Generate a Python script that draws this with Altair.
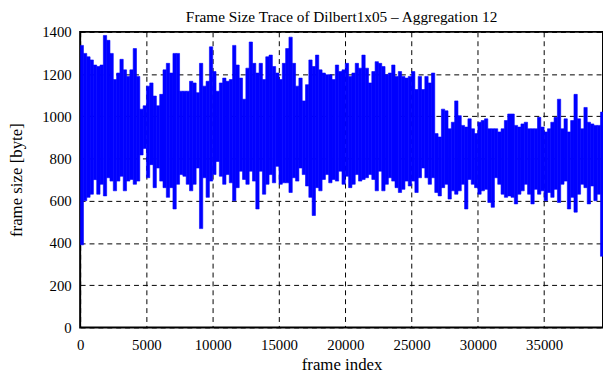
import altair as alt
import pandas as pd

# Envelope of the aggregated frame-size trace, read per 250-frame bin
BIN = 250
XMAX = 39440

hi_a = [1336, 1298, 1282, 1267, 1243, 1236, 1243, 1383, 1360, 1298, 1174, 1205, 1270, 1220, 1189, 1220, 1321, 1189, 1034, 1050, 1143, 1158, 1096, 1050, 1104, 1220, 1251]
lo_a = [391, 600, 616, 631, 700, 631, 678, 623, 709, 693, 647, 693, 716, 647, 693, 701, 678, 693, 817, 848, 709, 771, 662, 755, 693, 662, 616]

hi_b = [1205, 1298, 1298, 1119, 1119, 1119, 1166, 1158, 1112, 1251, 1143, 1166, 1329, 1212, 1119, 1158, 1181, 1166, 1174, 1336, 1243, 1181, 1081, 1228, 1352, 1251, 1205]
lo_b = [662, 561, 678, 724, 716, 678, 647, 678, 755, 468, 709, 616, 693, 724, 786, 716, 678, 724, 685, 600, 662, 740, 701, 678, 740, 693, 561]

hi_c = [1251, 1174, 1282, 1290, 1236, 1205, 1174, 1251, 1321, 1375, 1251, 1143, 1181, 1073, 1150, 1267, 1236, 1290, 1220, 1205, 1197, 1197, 1174, 1243, 1212, 1220, 1251]
lo_c = [740, 631, 678, 724, 685, 763, 678, 685, 685, 639, 709, 693, 755, 724, 670, 616, 530, 662, 647, 701, 724, 685, 701, 693, 740, 678, 716]

hi_d = [1189, 1205, 1251, 1228, 1290, 1228, 1158, 1212, 1259, 1251, 1236, 1197, 1205, 1243, 1189, 1212, 1189, 1181, 1189, 1212, 1127, 1189, 1127, 1189, 1158, 1205, 918]
lo_d = [662, 678, 724, 693, 701, 709, 724, 701, 647, 740, 647, 678, 709, 693, 662, 639, 654, 693, 670, 693, 639, 709, 755, 709, 678, 709, 639]

hi_e = [902, 1034, 1026, 941, 972, 1073, 1003, 957, 949, 988, 941, 918, 972, 980, 988, 941, 941, 941, 926, 941, 980, 1011, 1011, 957, 949, 964, 972]
lo_e = [623, 662, 678, 608, 647, 631, 647, 678, 561, 701, 678, 662, 631, 647, 654, 592, 569, 709, 678, 631, 616, 623, 616, 585, 631, 647, 678]

hi_f = [941, 941, 941, 995, 949, 926, 941, 972, 995, 1081, 941, 988, 926, 980, 1104, 988, 941, 1042, 972, 964, 957, 957, 1020]
lo_f = [631, 585, 654, 631, 647, 600, 639, 616, 654, 592, 678, 693, 561, 616, 546, 631, 678, 662, 585, 670, 600, 631, 337]

x_ticks = [0, 5000, 10000, 15000, 20000, 25000, 30000, 35000]
y_ticks = [0, 200, 400, 600, 800, 1000, 1200, 1400]

hi = hi_a + hi_b + hi_c + hi_d + hi_e + hi_f
lo = lo_a + lo_b + lo_c + lo_d + lo_e + lo_f
starts = [i * BIN for i in range(len(hi))]
ends = [min(s + BIN, XMAX) for s in starts]
df = pd.DataFrame({"start": starts, "end": ends, "lo": lo, "hi": hi})

FONT = "Liberation Serif"

axis_style = dict(
    grid=True, gridColor="black", gridDash=[5, 4], gridWidth=1, gridOpacity=1,
    domain=False, ticks=False, labelFlush=False, format="d",
    labelFont=FONT, labelFontSize=15, labelColor="black",
    titleFont=FONT, titleFontSize=17, titleFontWeight="normal", titleColor="black",
)

chart = alt.Chart(df).mark_rect(
    color="#0000ff", stroke="#0000ff", strokeWidth=0.6, clip=True
).encode(
    x=alt.X("start:Q",
            scale=alt.Scale(domain=[0, XMAX], nice=False, zero=False),
            axis=alt.Axis(values=x_ticks, title="frame index",
                          labelPadding=10, titlePadding=5, **axis_style)),
    x2="end:Q",
    y=alt.Y("lo:Q",
            scale=alt.Scale(domain=[0, 1400], nice=False),
            axis=alt.Axis(values=y_ticks, title="frame size [byte]",
                          labelPadding=9, titlePadding=16, **axis_style)),
    y2="hi:Q",
).properties(
    width=529, height=299,
    padding={"left": 0, "top": 0, "right": 0, "bottom": 0},
    title=alt.TitleParams("Frame Size Trace of Dilbert1x05 \u2013 Aggregation 12",
                          font=FONT, fontSize=15.5, fontWeight="normal", color="black", offset=-1),
).configure_view(
    stroke="black", strokeWidth=2
)

chart.save("out.html", embed_options={"renderer": "svg", "actions": False})
